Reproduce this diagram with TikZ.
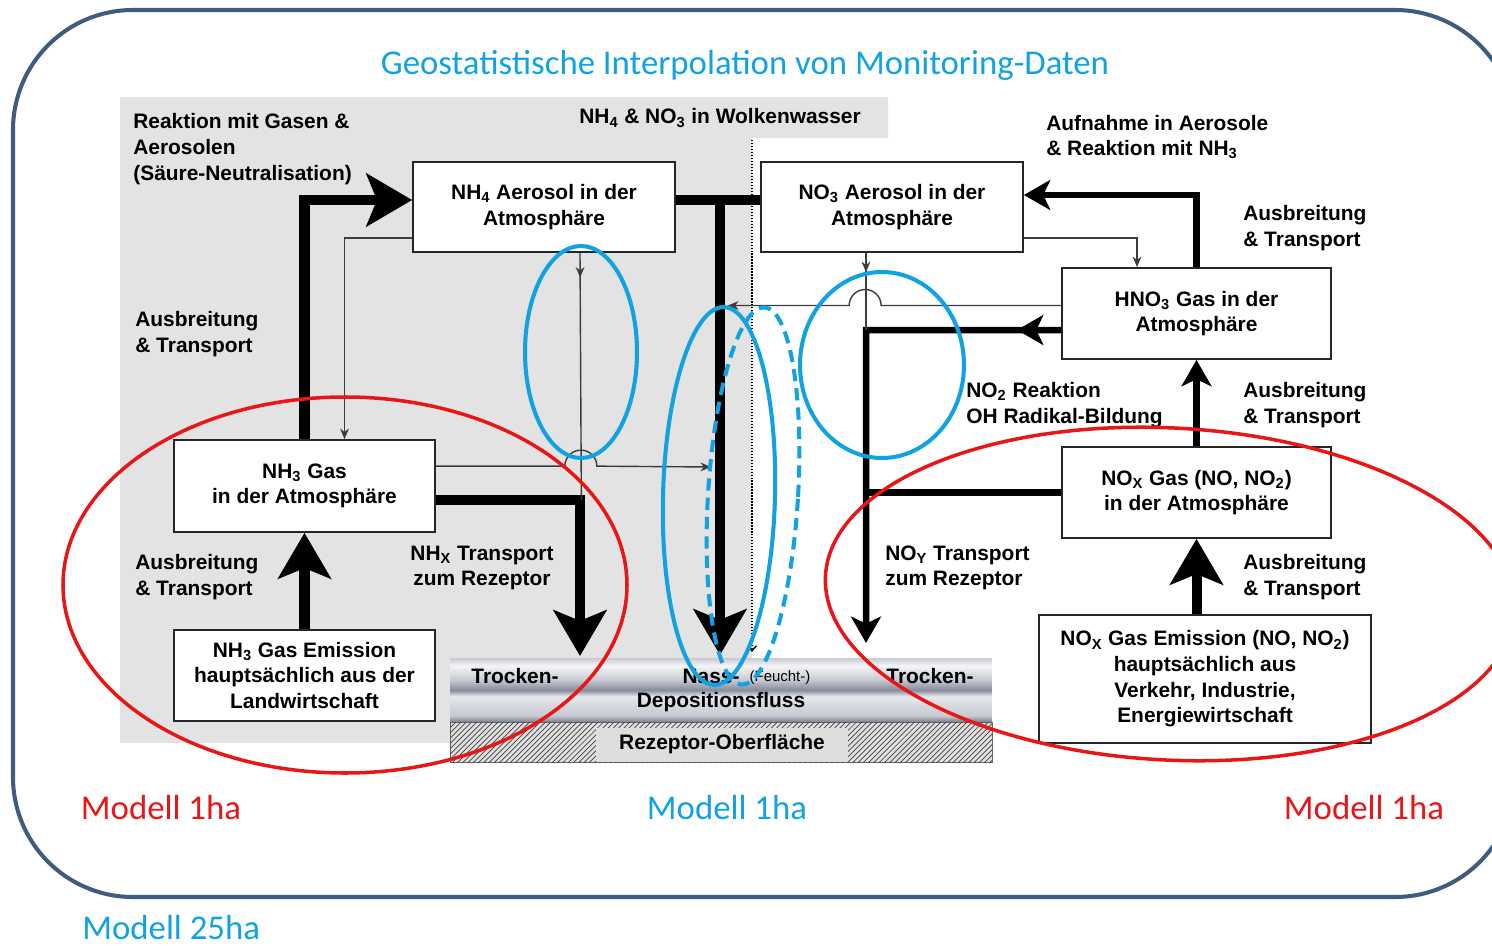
\documentclass[tikz,border=0pt]{standalone}
\usepackage{fontspec}
\setmainfont{Liberation Sans}
\newfontfamily\calfont{Carlito}
\usetikzlibrary{calc}
\usetikzlibrary{arrows.meta}
\usetikzlibrary{decorations.markings}
\usetikzlibrary{patterns}

\definecolor{cyanblue}{RGB}{18,162,226}
\definecolor{markred}{RGB}{232,22,22}
\definecolor{framecol}{RGB}{62,92,128}
\definecolor{bggray}{RGB}{227,227,227}
\definecolor{linegray}{RGB}{60,60,60}
\definecolor{deptop}{RGB}{200,202,210}
\definecolor{deplt}{RGB}{245,245,247}
\definecolor{depmid}{RGB}{200,202,210}
\definecolor{depdk}{RGB}{135,140,155}
\definecolor{deplt2}{RGB}{232,232,238}
\definecolor{depmid2}{RGB}{214,215,222}
\definecolor{depdk2}{RGB}{120,124,140}

\pgfdeclareverticalshading{depshade}{100bp}{%
	color(0bp)=(depdk2); color(25bp)=(depdk2); color(30bp)=(depmid);
	color(37.5bp)=(depmid2); color(45bp)=(deplt2); color(50bp)=(depdk);
	color(58bp)=(depmid); color(69bp)=(deplt); color(75bp)=(deptop);
	color(100bp)=(deptop)}

\newcommand\diafont{\fontsize{11.9}{14.6}\selectfont\bfseries}
\newcommand\bigfont{\calfont\fontsize{19.8}{23}\selectfont}

\tikzset{
	outerframe/.style={
		draw=framecol,
		line width=2.3pt,
		rounded corners=2.4cm,
	},
	box/.style={
		draw=black!85,
		rectangle,
		fill=white,
		line width=1pt,
		align=center,
		font=\diafont,
		inner sep=0pt,
	},
	lbl/.style={
		font=\diafont,
		align=left,
		inner sep=0pt,
		anchor=west,
	},
	deplbl/.style={
		font=\diafont,
		inner sep=0pt,
	},
	bigtxt/.style={
		font=\bigfont,
		inner sep=0pt,
	},
	depbar/.style={
		rectangle,
		minimum width=10.84cm,
		minimum height=1.28cm,
		inner sep=0pt,
		shading=depshade,
	},
	surface/.style={
		rectangle,
		draw=black!60,
		minimum width=10.84cm,
		minimum height=0.8cm,
		inner sep=0pt,
		fill=black!12,
		postaction={pattern=north east lines, pattern color=black!75},
	},
	surflabel/.style={
		rectangle,
		fill=black!13,
		minimum width=5.04cm,
		minimum height=0.68cm,
		inner sep=0pt,
		font=\diafont,
	},
	bigline/.style={line width=5.7pt},
	bigarr/.style={
		line width=5.7pt,
		-{Stealth[length=26pt,width=30pt,inset=6pt]}
	},
	medline/.style={line width=3.7pt},
	medarr/.style={
		line width=3.7pt,
		-{Stealth[length=15pt,width=17pt,inset=4pt]}
	},
	medmid/.style={
		postaction={decorate},
		decoration={markings,
			mark=at position #1 with {\arrow{Stealth[length=15pt,width=17pt,inset=4pt]}}},
	},
	thinline/.style={draw=linegray, line width=0.8pt},
	thinarr/.style={
		draw=linegray,
		line width=0.8pt,
		-{Stealth[length=6pt,width=5pt]}
	},
	thinmid/.style={
		postaction={decorate},
		decoration={markings,
			mark=at position #1 with {\arrow{Stealth[length=6pt,width=5pt]}}},
	},
	cloudline/.style={
		densely dotted,
		line width=0.7pt,
		-{Straight Barb[length=3pt,width=5pt]}
	},
	blueell/.style={draw=cyanblue, line width=2.3pt},
	dashell/.style={blueell, dash pattern=on 7pt off 4pt},
	redell/.style={draw=markred, line width=2pt},
}

\begin{document}
\begin{tikzpicture}[x=0.02cm, y=-0.02cm]
	\useasboundingbox (0,0) rectangle (1492,946);
	\clip (0,0) rectangle (1492,946);

	\draw[outerframe] (13,10) rectangle (1515,897);
	\fill[bggray] (120,97) -- (888,97) -- (888,138) -- (752,138) -- (752,660) -- (450,660) -- (450,743) -- (120,743) -- cycle;
	\draw[cloudline] (752,140) -- (752,652);

%*********

	\node[box, minimum width=5.24cm, minimum height=1.8cm]  (nhaero) at (544,207)     {NH\textsubscript{4} Aerosol in der\\Atmosphäre};
	\node[box, minimum width=5.24cm, minimum height=1.8cm]  (noaero) at (892,207)     {NO\textsubscript{3} Aerosol in der\\Atmosphäre};
	\node[box, minimum width=5.38cm, minimum height=1.82cm] (hno)    at (1196.5,313.5) {HNO\textsubscript{3} Gas in der\\Atmosphäre};
	\node[box, minimum width=5.38cm, minimum height=1.82cm] (noxgas) at (1196.5,492.5) {NO\textsubscript{X} Gas (NO, NO\textsubscript{2})\\in der Atmosphäre};
	\node[box, minimum width=6.64cm, minimum height=2.56cm] (noxemi) at (1205,679)    {NO\textsubscript{X} Gas Emission (NO, NO\textsubscript{2})\\hauptsächlich aus\\Verkehr, Industrie,\\Energiewirtschaft};
	\node[box, minimum width=5.22cm, minimum height=1.84cm] (nhgas)  at (304.5,486)   {NH\textsubscript{3} Gas\\in der Atmosphäre};
	\node[box, minimum width=5.22cm, minimum height=1.82cm] (nhemi)  at (304.5,675.5) {NH\textsubscript{3} Gas Emission\\hauptsächlich aus der\\Landwirtschaft};

	\node[depbar]    (dep)      at (721,690)   {};
	\node[surface]   (surf)     at (721,742)   {};
	\node[surflabel] (surflbl)  at (722,744.5) {Rezeptor-Oberfläche};
	\node[deplbl]    (trockenL) at (515,676)   {Trocken-};
	\node[deplbl]    (nass)     at (711,676)   {Nass-};
	\node[inner sep=0pt, font=\fontsize{8.5}{10}\selectfont] (feucht) at (780,678) {(Feucht-)};
	\node[deplbl]    (trockenR) at (930,676)   {Trocken-};
	\node[deplbl]    (depfluss) at (721,702)   {Depositionsfluss};

	\coordinate (wetjoin) at (720,200);
	\coordinate (noyturn) at (866,330);
	\coordinate (dryL)    at (580,656);
	\coordinate (wetin)   at (720,655);
	\coordinate (dryR)    at (866,643);

%*********

	\draw[bigarr]   (nhgas.north) |- ($(nhaero.west)+(0,-7)$);
	\draw[bigarr]   (nhemi.north) -- (nhgas.south);
	\draw[bigarr]   ($(nhgas.east)+(0,14)$) -| (dryL);
	\draw[bigline]  ($(nhaero.east)+(0,-7)$) -- ($(noaero.west)+(0,-7)$);
	\draw[bigarr]   (wetjoin) -- (wetin);
	\draw[medarr]   (hno.north) |- ($(noaero.east)+(0,-12)$);
	\draw[medarr, medmid=0.087] ($(hno.west)+(0,16.5)$) -- (noyturn) -- (dryR);
	\draw[medline]  (noxgas.west) -- (noxgas.west -| noyturn);
	\draw[medarr]   (noxgas.north) -- (hno.south);
	\draw[bigarr]   (noxgas.south |- noxemi.north) -- (noxgas.south);

	\draw[thinarr]  ($(nhaero.south west)+(0,-15)$) -| ($(nhgas.north)+(40,0)$);
	\draw[thinline, thinmid=0.1] ($(nhaero.south)+(36,0)$) -- ($(nhgas.east)+(145.5,14)$);
	\draw[thinarr]  ($(nhgas.north east)+(0,27)$) -- ++(129,0) arc[start angle=180, end angle=360, radius=16] -- ($(wetjoin)+(-9,267)$);
	\draw[thinline, thinmid=0.25] ($(noaero.south)+(-26,0)$) -- (noyturn);
	\draw[thinarr]  ($(hno.west)+(0,-8)$) -- ++(-180,0) arc[start angle=0, end angle=-180, radius=16] -- ($(wetjoin)+(8,105.5)$);
	\draw[thinarr]  ($(noaero.south east)+(0,-15)$) -| ($(hno.north)+(-59.5,0)$);

%*********

	\node[lbl] (reaktion) at (133,149) {Reaktion mit Gasen \&\\Aerosolen\\(Säure-Neutralisation)};
	\node[lbl, anchor=center] (wolke) at (720,118) {NH\textsubscript{4} \& NO\textsubscript{3} in Wolkenwasser};
	\node[lbl] (aufnahme) at (1046,137) {Aufnahme in Aerosole\\\& Reaktion mit NH\textsubscript{3}};
	\node[lbl] (ausbrA)   at (1243,228) {Ausbreitung\\\& Transport};
	\node[lbl] (ausbrB)   at (135,334)  {Ausbreitung\\\& Transport};
	\node[lbl] (no2reak)  at (966,405)  {NO\textsubscript{2} Reaktion\\OH Radikal-Bildung};
	\node[lbl] (ausbrC)   at (1243,405) {Ausbreitung\\\& Transport};
	\node[lbl] (ausbrD)   at (135,577)  {Ausbreitung\\\& Transport};
	\node[lbl, align=center, anchor=center] (nhx) at (482,568) {NH\textsubscript{X} Transport\\zum Rezeptor};
	\node[lbl] (noy)      at (885,568)  {NO\textsubscript{Y} Transport\\zum Rezeptor};
	\node[lbl] (ausbrE)   at (1243,577) {Ausbreitung\\\& Transport};

	\node[bigtxt, text=cyanblue] (title) at (745,65)  {Geostatistische Interpolation von Monitoring-Daten};
	\node[bigtxt, text=markred]  (modL)  at (161,808) {Modell 1ha};
	\node[bigtxt, text=cyanblue] (modM)  at (727,808) {Modell 1ha};
	\node[bigtxt, text=markred]  (modR)  at (1364,808) {Modell 1ha};
	\node[bigtxt, text=cyanblue, anchor=west] (mod25) at (82,928) {Modell 25ha};

%*********

	\draw[blueell] (581,352) ellipse [x radius=56, y radius=106];
	\draw[blueell, rotate around={-1.5:(719,496)}] (719,496) ellipse [x radius=56, y radius=189];
	\draw[dashell, rotate around={-3.5:(753,496)}] (753,496) ellipse [x radius=45, y radius=189];
	\draw[blueell] (882,365) ellipse [x radius=82, y radius=93];
	\draw[redell] (345,585) ellipse [x radius=282, y radius=188];
	\draw[redell, rotate around={-3:(1170,594)}] (1170,594) ellipse [x radius=345, y radius=166];

\end{tikzpicture}
\end{document}
